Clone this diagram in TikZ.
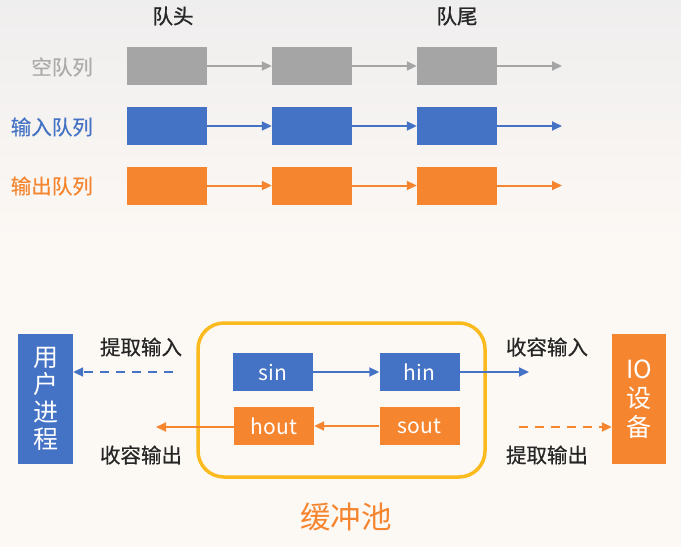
\documentclass[tikz,border=0pt]{standalone}
\usepackage{fontspec}
\newfontfamily\cjk{Noto Sans CJK SC}
\newfontfamily\cjkmed[FakeBold=0.5]{Noto Sans CJK SC}
\newfontfamily\cjkhead[FakeBold=1.2]{Noto Sans CJK SC}
\usetikzlibrary{arrows.meta}
\definecolor{qgray}{HTML}{A5A5A5}
\definecolor{qgraytxt}{HTML}{ABABAB}
\definecolor{qblue}{HTML}{4472C4}
\definecolor{qorange}{HTML}{F5852F}
\definecolor{qyellow}{HTML}{FBBA1E}
\definecolor{bgtop}{HTML}{EFEEEE}
\definecolor{bgbot}{HTML}{FCF8F4}
\tikzset{
  qbox/.style={minimum width=80pt,minimum height=38pt,inner sep=0pt,text=white,font=\cjk\fontsize{21}{24}\selectfont},
  grayq/.style={qbox,fill=qgray},
  blueq/.style={qbox,fill=qblue},
  orangeq/.style={qbox,fill=qorange},
  link/.style={line width=2pt,-{Triangle[length=10pt,width=9pt]}},
  lbl/.style={font=\cjkmed\fontsize{20.5}{24}\selectfont,inner sep=0pt},
  sidebox/.style={minimum width=55pt,minimum height=130pt,inner sep=0pt,text=white,align=center},
  dashline/.style={dash pattern=on 9pt off 7pt}
}
\begin{document}
\begin{tikzpicture}[x=1pt,y=-1pt]
\useasboundingbox (0,0) rectangle (681,547);
\shade[top color=bgtop,bottom color=bgbot] (0,0) rectangle (681,240);
\fill[bgbot] (0,239.5) rectangle (681,547);
% headers
\node[lbl,font=\cjkhead\fontsize{20.5}{24}\selectfont,text=black!85] (head) at (173,16) {队头};
\node[lbl,font=\cjkhead\fontsize{20.5}{24}\selectfont,text=black!85] (tail) at (457,16) {队尾};
% rows
\node[lbl,text=qgraytxt,anchor=east] (lempty) at (93,67) {空队列};
\node[lbl,text=qblue,anchor=east] (lin) at (93,127) {输入队列};
\node[lbl,text=qorange,anchor=east] (lout) at (93,186) {输出队列};
\node[grayq] (g1) at (167,66) {};
\node[grayq] (g2) at (312,66) {};
\node[grayq] (g3) at (457,66) {};
\coordinate (gend) at (562,66);
\node[blueq] (b1) at (167,126) {};
\node[blueq] (b2) at (312,126) {};
\node[blueq] (b3) at (457,126) {};
\coordinate (bend) at (562,126);
\node[orangeq] (o1) at (167,185.5) {};
\node[orangeq] (o2) at (312,185.5) {};
\node[orangeq] (o3) at (457,185.5) {};
\coordinate (oend) at (562,185.5);
\draw[link,qgray] (g1) -- (g2);
\draw[link,qgray] (g2) -- (g3);
\draw[link,qgray] (g3) -- (gend);
\draw[link,qblue] (b1) -- (b2);
\draw[link,qblue] (b2) -- (b3);
\draw[link,qblue] (b3) -- (bend);
\draw[link,qorange] (o1) -- (o2);
\draw[link,qorange] (o2) -- (o3);
\draw[link,qorange] (o3) -- (oend);
% buffer pool
\draw[qyellow,line width=3.5pt,rounded corners=26pt] (198,323) rectangle (485,477);
\node[font=\cjk\fontsize{30.5}{34}\selectfont,text=qorange] (pool) at (346,517) {缓冲池};
\node[blueq] (sin) at (273,372) {sin};
\node[blueq] (hin) at (419.5,372) {hin};
\node[orangeq] (hout) at (274,426) {hout};
\node[orangeq] (sout) at (419.5,426) {sout};
\node[sidebox,fill=qblue,font=\cjk\fontsize{25}{27.5}\selectfont] (user) at (45.5,399) {用\\户\\进\\程};
\node[sidebox,fill=qorange,minimum width=54pt,font=\cjk\fontsize{25}{29}\selectfont] (io) at (639,399) {IO\\设\\备};
\node[lbl,text=black!85] (tqin) at (141,347) {提取输入};
\node[lbl,text=black!85] (rqout) at (141,455) {收容输出};
\node[lbl,text=black!85] (rqin) at (547,347) {收容输入};
\node[lbl,text=black!85] (tqout) at (547,455) {提取输出};
\coordinate (hinend) at (529,372);
\coordinate (houtend) at (156,427);
\coordinate (dinstart) at (173,372);
\coordinate (doutstart) at (519,427);
\draw[link,qblue] (sin) -- (hin);
\draw[link,qblue] (hin) -- (hinend);
\draw[link,qorange] (sout) -- (hout);
\draw[link,qorange] (hout.west |- houtend) -- (houtend);
\draw[link,qblue,dashline] (dinstart) -- (user.east |- dinstart);
\draw[link,qorange,dashline] (doutstart) -- (io.west |- doutstart);
\end{tikzpicture}
\end{document}
